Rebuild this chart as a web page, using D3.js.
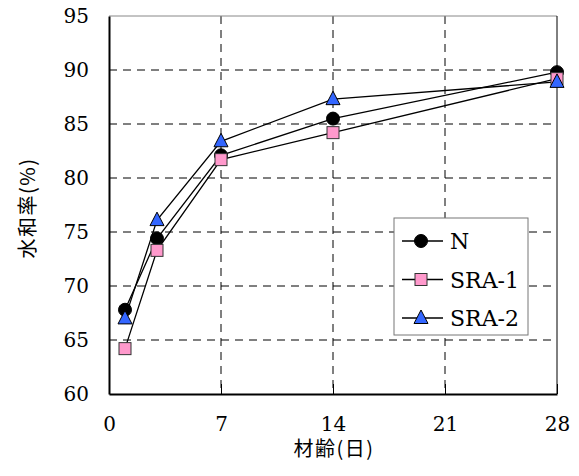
<!DOCTYPE html>
<html>
<head>
<meta charset="utf-8">
<script src="https://cdn.jsdelivr.net/npm/d3@7"></script>
<style>
  body { margin: 0; background: #fff; }
</style>
</head>
<body>
<script>
var days = [1, 3, 7, 14, 28];
var valuesN = [67.8, 74.4, 82.1, 85.5, 89.8];
var valuesSRA1 = [64.2, 73.3, 81.7, 84.2, 89.2];
var valuesSRA2 = [67.0, 76.1, 83.4, 87.3, 88.9];
var seriesNames = ["N", "SRA-1", "SRA-2"];
var xTicks = [0, 7, 14, 21, 28];
var yTicks = [60, 65, 70, 75, 80, 85, 90, 95];

var series = [
  { name: seriesNames[0], values: valuesN, shape: "circle", fill: "#000000" },
  { name: seriesNames[1], values: valuesSRA1, shape: "square", fill: "#ff99cc" },
  { name: seriesNames[2], values: valuesSRA2, shape: "triangle", fill: "#3366ff" }
];

var SERIF = "'DejaVu Serif', serif";
var CJK = "'Noto Sans CJK JP', 'Noto Sans CJK SC', sans-serif";

var width = 579, height = 476;
var plotLeft = 109, plotRight = 557, plotTop = 16, plotBottom = 394;

var x = d3.scaleLinear().domain([0, 28]).range([plotLeft, plotRight]);
var y = d3.scaleLinear().domain([60, 95]).range([plotBottom, plotTop]);

var svg = d3.select("body").append("svg")
    .attr("width", width)
    .attr("height", height);

// grid
svg.append("g").selectAll("line")
    .data(yTicks.filter(function(d) { return d > 60 && d < 95; }))
    .enter().append("line")
    .attr("x1", plotLeft).attr("x2", plotRight)
    .attr("y1", function(d) { return y(d); })
    .attr("y2", function(d) { return y(d); })
    .attr("stroke", "#000").attr("stroke-width", 1)
    .attr("stroke-dasharray", "8,6");

svg.append("g").selectAll("line")
    .data(xTicks.filter(function(d) { return d > 0 && d < 28; }))
    .enter().append("line")
    .attr("y1", plotTop).attr("y2", plotBottom)
    .attr("x1", function(d) { return x(d); })
    .attr("x2", function(d) { return x(d); })
    .attr("stroke", "#000").attr("stroke-width", 1)
    .attr("stroke-dasharray", "8,6");

// frame
svg.append("line").attr("x1", plotLeft).attr("x2", plotRight).attr("y1", plotTop).attr("y2", plotTop)
    .attr("stroke", "#888").attr("stroke-width", 1);
svg.append("line").attr("x1", plotRight).attr("x2", plotRight).attr("y1", plotTop).attr("y2", plotBottom)
    .attr("stroke", "#000").attr("stroke-width", 1);

// axes
var xAxis = d3.axisBottom(x).tickValues(xTicks).tickSizeInner(-10).tickSizeOuter(0).tickPadding(23);
var gx = svg.append("g").attr("transform", "translate(0," + plotBottom + ")").call(xAxis);
gx.select(".domain").attr("stroke", "#000").attr("stroke-width", 2);
gx.selectAll("text").style("font-family", SERIF).style("font-size", "20px").attr("fill", "#000");

var yAxis = d3.axisLeft(y).tickValues(yTicks).tickSize(0).tickPadding(20);
var gy = svg.append("g").attr("transform", "translate(" + plotLeft + ",0)").call(yAxis);
gy.select(".domain").attr("stroke", "#000").attr("stroke-width", 2);
gy.selectAll("text").style("font-family", SERIF).style("font-size", "20px").attr("fill", "#000");

// axis titles
svg.append("text")
    .attr("x", x(14) + 1).attr("y", 456)
    .attr("text-anchor", "middle")
    .style("font-family", CJK).style("font-size", "20px")
    .style("letter-spacing", "1.5px")
    .text("材齢(日)");

svg.append("text")
    .attr("transform", "translate(35,208) rotate(-90)")
    .attr("text-anchor", "middle")
    .style("font-family", CJK).style("font-size", "20px")
    .style("letter-spacing", "1.5px")
    .text("水和率(%)");

function drawMarker(g, shape, fill, cx, cy) {
  if (shape === "circle") {
    g.append("circle").attr("cx", cx).attr("cy", cy).attr("r", 6.5)
      .attr("fill", fill).attr("stroke", "#000").attr("stroke-width", 1);
  } else if (shape === "square") {
    g.append("rect").attr("x", cx - 6).attr("y", cy - 6).attr("width", 12).attr("height", 12)
      .attr("fill", fill).attr("stroke", "#333").attr("stroke-width", 1);
  } else {
    var s = 7;
    g.append("path")
      .attr("d", "M" + cx + "," + (cy - 8) + "L" + (cx + s) + "," + (cy + 5.5) + "L" + (cx - s) + "," + (cy + 5.5) + "Z")
      .attr("fill", fill).attr("stroke", "#000").attr("stroke-width", 1);
  }
}

var line = d3.line()
    .x(function(d) { return x(d[0]); })
    .y(function(d) { return y(d[1]); });

series.forEach(function(s) {
  svg.append("path")
    .datum(days.map(function(d, i) { return [d, s.values[i]]; }))
    .attr("d", line)
    .attr("fill", "none")
    .attr("stroke", "#000")
    .attr("stroke-width", 1.3);
});

series.forEach(function(s) {
  var g = svg.append("g");
  days.forEach(function(d, i) {
    drawMarker(g, s.shape, s.fill, x(d), y(s.values[i]));
  });
});

// legend
var lg = svg.append("g");
lg.append("rect").attr("x", 394).attr("y", 218).attr("width", 134).attr("height", 117)
  .attr("fill", "#fff").attr("stroke", "#777").attr("stroke-width", 1);
series.forEach(function(s, i) {
  var ly = 241 + i * 38.5;
  lg.append("line").attr("x1", 402).attr("x2", 443).attr("y1", ly).attr("y2", ly)
    .attr("stroke", "#000").attr("stroke-width", 1.3);
  drawMarker(lg, s.shape, s.fill, 421, ly);
  lg.append("text").attr("x", 450).attr("y", ly + 8)
    .style("font-family", SERIF).style("font-size", "22px")
    .text(s.name);
});
</script>
</body>
</html>
